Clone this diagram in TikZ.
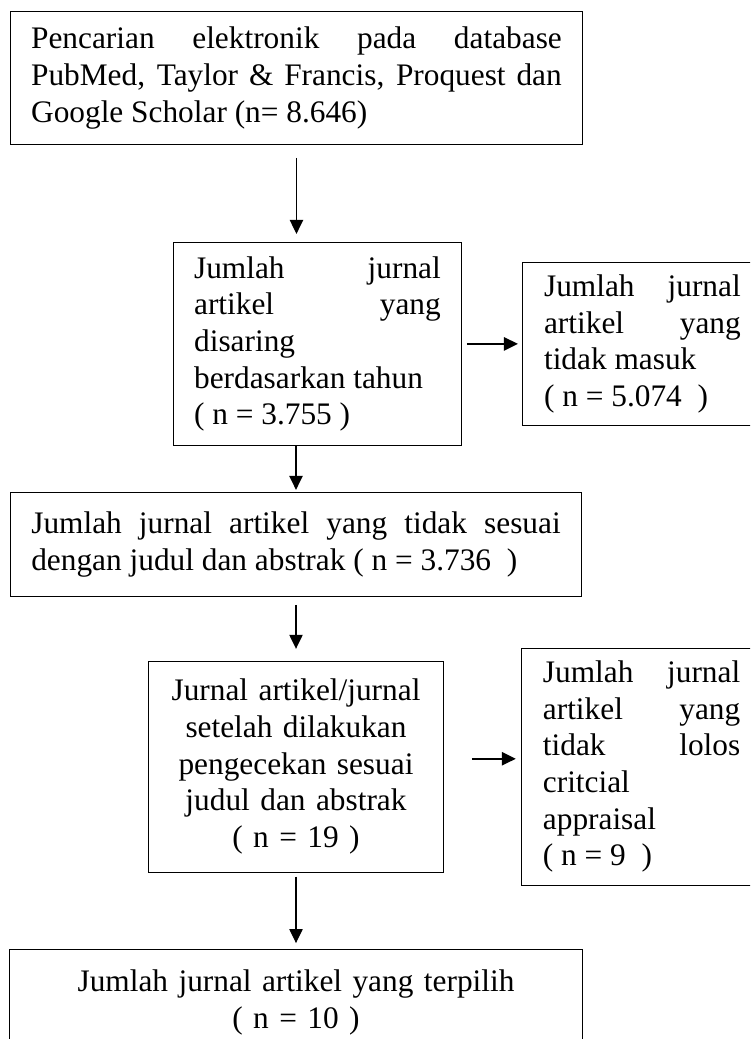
\documentclass[tikz,border=0pt]{standalone}
\usepackage{fontspec}
\setmainfont{Liberation Serif}
\usepackage{tikz}
\usetikzlibrary{positioning,calc,arrows.meta}

\begin{document}
\begin{tikzpicture}[
    box/.style={rectangle, draw, line width=0.7pt, inner xsep=15.5pt, inner ysep=0pt,
        font=\fontsize{23.5pt}{27.5pt}\selectfont},
    cut/.style={line width=0.7pt},
    arr/.style={draw, line width=0.9pt, -{Triangle[length=10.5pt, width=10pt]}}
]
    \useasboundingbox (0,0) rectangle (562.5pt,-779.25pt);
    \clip (0,0) rectangle (562.5pt,-779.25pt);

    \node[box, align=justify, text width=398pt, minimum height=99.75pt, anchor=north west] (search) at (7.5pt,-8.25pt)
        {Pencarian elektronik pada database\linebreak PubMed, Taylor \& Francis, Proquest dan\linebreak Google Scholar (n= 8.646)};
    \node[box, align=justify, text width=185pt, minimum height=152.25pt, below=72.75pt of search, xshift=15.75pt] (screened)
        {Jumlah jurnal\linebreak artikel yang\linebreak disaring\\ berdasarkan tahun\\ ( n = 3.755 )};
    \node[box, draw=none, align=justify, text width=147.5pt, minimum height=121.5pt, right=45.75pt of screened] (excluded)
        {Jumlah jurnal\linebreak artikel yang\linebreak tidak masuk\\ ( n = 5.074 \ )};

    \node[box, align=justify, text width=397pt, minimum height=78pt, below=34.5pt of screened, xshift=-16.1pt] (mismatch)
        {Jumlah jurnal artikel yang tidak sesuai\linebreak dengan judul dan abstrak ( n = 3.736 \ )};
    \node[box, align=center, text width=190pt, minimum height=158.25pt, below=48pt of mismatch] (checked)
        {Jurnal artikel/jurnal\\ setelah dilakukan\\ pengecekan sesuai\\ judul dan abstrak\\ ( n = 19 )};
    \node[box, draw=none, align=justify, text width=148pt, minimum height=177pt, right=58.5pt of checked] (rejected)
        {Jumlah jurnal\linebreak artikel yang\linebreak tidak lolos\linebreak critcial\\ appraisal\\ ( n = 9 \ )};
    \node[box, draw=none, align=center, text width=398pt, minimum height=78pt, below=57.75pt of checked] (selected)
        {Jumlah jurnal artikel yang terpilih\\ ( n = 10 )};

    % boxes running off the page edge
    \draw[cut] (excluded.north east) -- (excluded.north west) -- (excluded.south west) -- (excluded.south east);
    \draw[cut] (rejected.north east) -- (rejected.north west) -- (rejected.south west) -- (rejected.south east);
    \draw[cut] (selected.south west) -- (selected.north west) -- (selected.north east) -- (selected.south east);

    \draw[arr, shorten <=9.75pt, shorten >=6pt] (search.south) -- (search.south |- screened.north);
    \draw[arr, line width=1.3pt, shorten <=3.75pt, shorten >=3.75pt] (screened) -- (excluded);
    \draw[arr, shorten >=1.5pt] (screened.south -| mismatch.north) -- (mismatch.north);
    \draw[arr, shorten <=6pt, shorten >=9pt] (mismatch) -- (checked);
    \draw[arr, line width=1.3pt, shorten <=21pt, shorten >=4.5pt] ([yshift=6pt]checked.east) -- ([yshift=6pt]checked.east -| rejected.west);
    \draw[arr, shorten <=3pt, shorten >=5pt] (checked) -- (selected);
\end{tikzpicture}
\end{document}
